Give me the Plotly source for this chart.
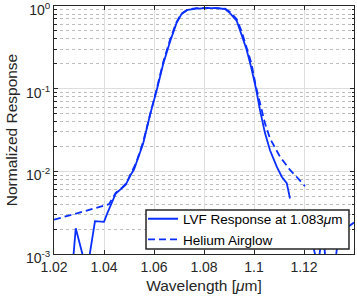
import plotly.graph_objects as go

# ---- data ----
lvf_wl = [1.0270, 1.0287, 1.0322, 1.0338, 1.0364, 1.0400, 1.0413, 1.0433, 1.0447,
          1.0473, 1.0487, 1.0507, 1.0520, 1.0557, 1.0584, 1.0611, 1.0637, 1.0664,
          1.0690, 1.0710, 1.0735, 1.0770, 1.0810, 1.0850, 1.0884, 1.0904, 1.0931,
          1.0948, 1.0970, 1.0988, 1.1008, 1.1024, 1.1044, 1.1064, 1.1091, 1.1111,
          1.1131, 1.1144, 1.1165, 1.1220, 1.1256, 1.1275, 1.1290, 1.1320, 1.1340,
          1.1400]
lvf_resp = [5.0e-4, 2.05e-3, 8.0e-4, 8.0e-4, 2.5e-3, 2.45e-3, 3.1e-3, 4.3e-3, 5.4e-3,
            6.3e-3, 6.9e-3, 9.1e-3, 1.05e-2, 2.19e-2, 4.8e-2, 9.6e-2, 0.20, 0.37,
            0.62, 0.80, 0.90, 0.93, 0.945, 0.94, 0.92, 0.82, 0.66,
            0.47, 0.30, 0.185, 0.10, 0.055, 0.029, 0.018, 0.0114, 8.6e-3,
            7.2e-3, 4.7e-3, None, 2.0e-3, 7.1e-4, 2.0e-3, 6.3e-4, 6.3e-4, 1.78e-3,
            2.4e-3]

he_wl = [1.020, 1.030, 1.036, 1.042, 1.0435, 1.0447, 1.0473, 1.0490, 1.0507, 1.0530,
         1.0557, 1.0584, 1.0611, 1.0637, 1.0664, 1.0690, 1.0710, 1.0735, 1.0770,
         1.0810, 1.0850, 1.0884, 1.0904, 1.0931, 1.0950, 1.0970, 1.0990, 1.1008,
         1.1024, 1.1044, 1.1064, 1.1084, 1.1104, 1.1124, 1.1144, 1.1170, 1.1191,
         1.1204]
he_resp = [2.6e-3, 3.2e-3, 3.55e-3, 4.0e-3, 4.8e-3, 5.5e-3, 6.4e-3, 7.2e-3, 9.3e-3, 1.3e-2,
           2.3e-2, 5.0e-2, 0.10, 0.21, 0.39, 0.64, 0.81, 0.91, 0.94,
           0.95, 0.945, 0.93, 0.85, 0.69, 0.50, 0.32, 0.20, 0.105,
           0.0666, 0.038, 0.025, 0.019, 0.015, 0.0125, 0.0104, 8.6e-3, 7.2e-3,
           6.6e-3]

x_tickvals = [1.02, 1.04, 1.06, 1.08, 1.10, 1.12]
x_ticktext = ["1.02", "1.04", "1.06", "1.08", "1.1", "1.12"]
y_tickvals = [1e-3, 1e-2, 1e-1, 1e0]
y_ticktext = ["10<sup>-3</sup>", "10<sup>-2</sup>", "10<sup>-1</sup>", "10<sup>0</sup>"]
series_names = ["LVF Response at 1.083<i>μ</i>m", "Helium Airglow"]

# minor ticks for the log axis
y_minor = [m * 10.0 ** e for e in (-3, -2, -1) for m in range(2, 10)]

LINE = "#0a2fff"
AX = "#262626"
FONT = "Liberation Sans, Arial, Helvetica, sans-serif"

fig = go.Figure()
fig.add_trace(go.Scatter(x=lvf_wl, y=lvf_resp, mode="lines", name=series_names[0],
                         line=dict(color=LINE, width=1.8), connectgaps=False))
fig.add_trace(go.Scatter(x=he_wl, y=he_resp, mode="lines", name=series_names[1],
                         line=dict(color=LINE, width=1.8, dash="7px,4px")))

# legend frame (white box with dark border, drawn above the data)
fig.add_shape(type="rect", xref="paper", yref="paper",
              x0=0.3067, x1=0.9833, y0=0.0202, y1=0.1774,
              line=dict(color=AX, width=1.5), fillcolor="white", layer="above")

fig.update_layout(
    width=357, height=301,
    margin=dict(l=54, r=3, t=6, b=47),
    paper_bgcolor="white", plot_bgcolor="white",
    font=dict(family=FONT, size=14, color=AX),
    showlegend=True,
    legend=dict(x=0.2967, y=0.0988, xanchor="left", yanchor="middle",
                bgcolor="rgba(0,0,0,0)", borderwidth=0,
                font=dict(family=FONT, size=13.5, color="black"),
                tracegroupgap=0, itemwidth=30),
    xaxis=dict(range=[1.02, 1.14], tickvals=x_tickvals, ticktext=x_ticktext,
               showgrid=True, gridcolor="#dedede", gridwidth=1,
               showline=True, linecolor=AX, linewidth=1, mirror="ticks",
               ticks="inside", ticklen=4, tickcolor=AX, zeroline=False,
               automargin=False, ticklabeloverflow="allow",
               title=dict(text="Wavelength [<i>μ</i>m]", standoff=6,
                          font=dict(size=15.5)),
               tickfont=dict(size=14)),
    yaxis=dict(type="log", range=[-3, 0], tickvals=y_tickvals, ticktext=y_ticktext,
               showgrid=True, gridcolor="#dedede", gridwidth=1,
               showline=True, linecolor=AX, linewidth=1, mirror="ticks",
               ticks="inside", ticklen=4, tickcolor=AX, zeroline=False,
               automargin=False, ticklabeloverflow="allow", ticklabelshift=4,
               minor=dict(tickvals=y_minor, ticks="inside", ticklen=2.5, tickcolor=AX,
                          showgrid=True, gridcolor="#bdbdbd", griddash="dot",
                          gridwidth=1),
               title=dict(text="Normalized Response", standoff=4,
                          font=dict(size=15.5)),
               tickfont=dict(size=14)),
)

fig.write_html("out.html", config={"displayModeBar": False},
               post_script="document.body.style.margin='0';document.body.style.padding='0';")
